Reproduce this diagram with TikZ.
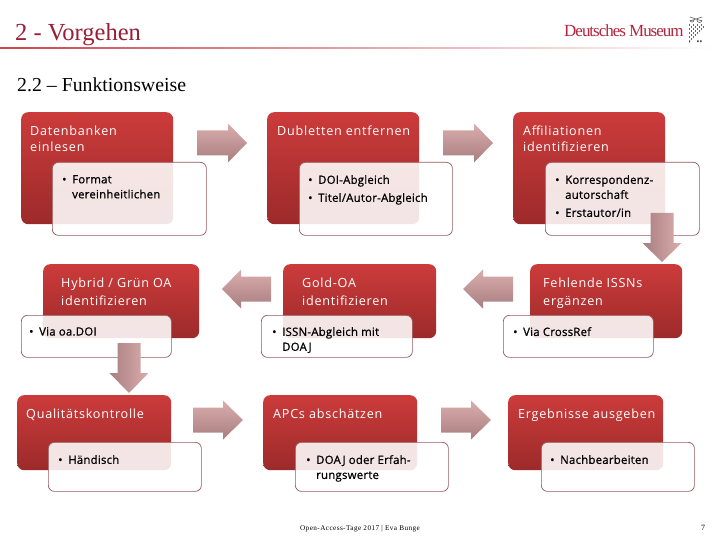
\documentclass[tikz,border=0pt]{standalone}
\usepackage{fontspec}
\setmainfont{Liberation Serif}
\newfontfamily\boxfont[LetterSpace=6]{Open Sans}
\newfontfamily\listfont[LetterSpace=2,FakeBold=0.8]{Open Sans}
\usetikzlibrary{calc}
\definecolor{redtop}{HTML}{CC3B3B}
\definecolor{redbot}{HTML}{9C2A2A}
\definecolor{edgecol}{HTML}{94595B}
\definecolor{arrlight}{HTML}{DBADAD}
\definecolor{arrdark}{HTML}{A87E80}
\definecolor{rulecol}{HTML}{C8474F}
\definecolor{logored}{HTML}{B5233C}
\tikzset{
  redbox/.style={rectangle,rounded corners=7pt,anchor=north west,inner sep=0pt,top color=redtop,middle color=redtop!85!redbot,bottom color=redbot},
  listbox/.style={rectangle,rounded corners=6pt,anchor=north west,inner sep=0pt,draw=edgecol,line width=.7pt,fill=white,fill opacity=.88},
  headtext/.style={anchor=north west,align=left,text=white,inner sep=0pt,font=\boxfont\fontsize{12.6}{18}\selectfont},
  listtext/.style={anchor=north west,align=left,text=black,inner sep=0pt,font=\listfont\fontsize{11.4}{15}\selectfont},
  blockR/.style={top color=arrlight,bottom color=arrdark},
  blockD/.style={left color=arrdark,right color=arrlight},
  blockL/.style={top color=arrlight,bottom color=arrdark},
}
\newcommand{\RB}[6]{\node[redbox,minimum width=#4pt,minimum height=#5pt] (#1) at (#2,#3) {};}
\newcommand{\LB}[5]{\node[listbox,minimum width=#4pt,minimum height=#5pt] (#1) at (#2,#3) {};}
\newcommand{\BL}{\makebox[10pt][l]{•}}
\newcommand{\IN}{\hspace*{10pt}}
% x of tail, x of shoulder, x of tip, y mid
\newcommand{\ArrowH}[5]{\path[#5] (#1,#4-12.5) -- (#2,#4-12.5) -- (#2,#4-19.5) -- (#3,#4) -- (#2,#4+19.5) -- (#2,#4+12.5) -- (#1,#4+12.5) -- cycle;}
\newcommand{\ArrowV}[5]{\path[#5] (#1-11.5,#2) -- (#1+11.5,#2) -- (#1+11.5,#3) -- (#1+19.5,#3) -- (#1,#4) -- (#1-19.5,#3) -- (#1-11.5,#3) -- cycle;}
\begin{document}
\begin{tikzpicture}[x=1pt,y=-1pt]
\useasboundingbox (0,0) rectangle (720,540);
\fill[white] (0,0) rectangle (720,540);
% header
\node[anchor=west,inner sep=0pt,text=logored!85!black,font=\fontsize{24.5}{26}\selectfont] (title) at (15,35) {2 - Vorgehen};
\shade[left color=rulecol,right color=white] (0,47.5) rectangle (715,49);
\node[anchor=west,inner sep=0pt,font=\fontsize{19.8}{22}\selectfont] (sub) at (17,85) {2.2 – Funktionsweise};
\node[anchor=west,inner sep=0pt,text=logored,font=\fontsize{17}{20}\selectfont] (logo) at (564,31) {\addfontfeatures{LetterSpace=-6}Deutsches Museum};
\foreach \r in {0,...,7}{
  \foreach \c in {0,...,7}{
    \pgfmathtruncatemacro{\ok}{(\r+\c<=9)&&(mod(\r+\c,2)==0)}
    \ifnum\ok=1 \fill[black!60] ({688.5+2*\c},{24+2*\r}) rectangle +(1.8,1.8);\fi
  }
}
\draw[black!65,line width=.6pt] (690,20) arc (180:0:2) (697,20) arc (180:0:2.5) (690,21)--(702,17) (690,17)--(702,21);
\fill[black!75] (697,40.5) rectangle +(1.6,1.6) (700,40.5) rectangle +(1.6,1.6) (689,40.5) rectangle +(1.2,2);
% red boxes
\RB{ra}{21}{112}{152}{112}{}
\RB{rb}{267}{112}{152}{112}{}
\RB{rc}{513}{112}{152}{112}{}
\RB{rd}{43}{264}{156}{74}{}
\RB{re}{283}{264}{153}{74}{}
\RB{rf}{530}{264}{152}{74}{}
\RB{rg}{17}{395}{154}{75}{}
\RB{rh}{263}{395}{154}{75}{}
\RB{ri}{508}{395}{155}{75}{}
% list boxes
\LB{la}{52}{162}{154}{73}
\LB{lb}{299}{162}{153}{73}
\LB{lc}{545}{162}{154}{73}
\LB{ld}{21}{315}{150}{42}
\LB{le}{261}{315}{151}{42}
\LB{lf}{503}{315}{150}{42}
\LB{lg}{48}{442}{153}{49}
\LB{lh}{295}{442}{153}{49}
\LB{li}{541}{442}{153}{49}
% arrows
\ArrowH{197}{228}{247}{143}{blockR}
\ArrowH{443}{474}{493}{143}{blockR}
\ArrowH{271}{241}{222}{289}{blockL}
\ArrowH{513}{483}{463}{289}{blockL}
\ArrowH{193}{223}{243}{420}{blockR}
\ArrowH{441}{471}{491}{420}{blockR}
\ArrowV{662}{213}{243}{262}{blockD}
\ArrowV{129}{343}{373}{393}{blockD}
% heading texts
\node[headtext] (ta) at (30,126) {Datenbanken\\[-2pt]einlesen};
\node[headtext] (tb) at (277,126) {Dubletten entfernen};
\node[headtext] (tc) at (523,126) {Affiliationen\\[-2pt]identifizieren};
\node[headtext] (td) at (61,278) {Hybrid / Grün OA\\identifizieren};
\node[headtext] (te) at (302,278) {Gold-OA\\identifizieren};
\node[headtext] (tf) at (543,278) {Fehlende ISSNs\\ergänzen};
\node[headtext] (tg) at (26,409) {Qualitätskontrolle};
\node[headtext] (th) at (273,409) {APCs abschätzen};
\node[headtext] (ti) at (518,409) {Ergebnisse ausgeben};
% list texts
\node[listtext] (xa) at (62,175) {\BL Format\\\IN vereinheitlichen};
\node[listtext] (xb) at (308,175) {\BL DOI-Abgleich\\[3pt]\BL Titel/Autor-Abgleich};
\node[listtext] (xc) at (555,175) {\BL Korrespondenz-\\\IN autorschaft\\[3pt]\BL Erstautor/in};
\node[listtext] (xd) at (29,327) {\BL Via oa.DOI};
\node[listtext] (xe) at (272,327) {\BL ISSN-Abgleich mit\\\IN DOAJ};
\node[listtext] (xf) at (513,327) {\BL Via CrossRef};
\node[listtext] (xg) at (58,455) {\BL Händisch};
\node[listtext] (xh) at (306,455) {\BL DOAJ oder Erfah-\\\IN rungswerte};
\node[listtext] (xi) at (550,455) {\BL Nachbearbeiten};
% footer
\node[anchor=center,inner sep=0pt,font=\fontsize{7.2}{9}\selectfont] (foot) at (360,529) {\addfontfeatures{LetterSpace=6}Open-Access-Tage 2017 | Eva Bunge};
\node[anchor=center,inner sep=0pt,font=\fontsize{8}{9}\selectfont] (page) at (703,528) {7};
\end{tikzpicture}
\end{document}
